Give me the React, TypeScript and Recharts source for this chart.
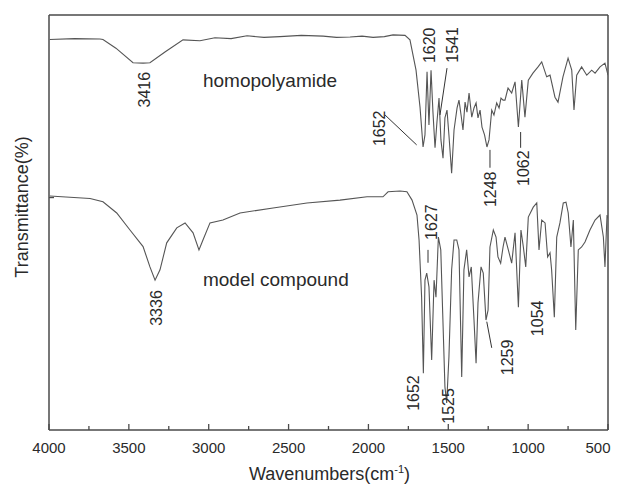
import React from "react";
import { LineChart, Line, XAxis, YAxis, ReferenceLine, ReferenceDot } from "recharts";

// Wavenumber (cm^-1) and transmittance (arbitrary %)
const homoWn = [3995, 3840, 3681, 3662, 3581, 3474, 3411, 3368, 3274, 3161, 3055, 2961, 2860, 2760, 2654, 2554, 2420, 2284, 2200, 2115, 2040, 1971, 1900, 1846, 1771, 1740, 1702, 1677, 1658, 1646, 1633, 1621, 1608, 1596, 1583, 1571, 1558, 1546, 1533, 1521, 1508, 1496, 1479, 1464, 1445, 1433, 1420, 1408, 1395, 1383, 1370, 1353, 1339, 1326, 1314, 1301, 1289, 1273, 1258, 1245, 1228, 1214, 1197, 1182, 1170, 1157, 1145, 1126, 1103, 1082, 1061, 1040, 1020, 999, 970, 938, 915, 884, 863, 832, 813, 782, 750, 727, 713, 696, 665, 633, 602, 581, 550, 519, 500];
const homoT = [94.1, 94.3, 94.2, 94.1, 92.0, 88.5, 88.4, 88.5, 91.1, 94.0, 93.8, 94.5, 94.3, 95.0, 94.6, 94.8, 95.1, 94.9, 94.6, 94.7, 94.9, 94.6, 94.8, 95.2, 95.1, 94.0, 86.7, 77.8, 68.2, 71.1, 86.3, 73.5, 86.7, 76.6, 68.0, 74.2, 80.0, 69.9, 65.5, 75.2, 77.1, 71.1, 61.9, 72.3, 77.6, 79.5, 75.9, 72.3, 79.0, 76.6, 81.2, 75.4, 77.6, 78.8, 75.2, 77.1, 73.0, 71.1, 68.2, 69.9, 77.1, 75.9, 78.8, 77.6, 80.0, 79.5, 79.5, 82.4, 81.2, 83.9, 73.0, 84.3, 75.4, 84.3, 86.0, 87.5, 88.7, 85.1, 85.5, 80.2, 79.0, 85.1, 89.6, 86.7, 77.1, 85.5, 87.5, 85.5, 86.7, 86.0, 87.5, 88.4, 85.5];

const modelWn = [3995, 3743, 3662, 3576, 3493, 3411, 3368, 3336, 3305, 3263, 3200, 3148, 3098, 3061, 3036, 2992, 2911, 2804, 2597, 2385, 2178, 2009, 1909, 1877, 1802, 1759, 1727, 1696, 1683, 1667, 1656, 1646, 1635, 1621, 1604, 1589, 1577, 1562, 1547, 1535, 1521, 1510, 1496, 1479, 1464, 1447, 1433, 1416, 1402, 1385, 1370, 1356, 1339, 1326, 1314, 1295, 1281, 1264, 1251, 1239, 1218, 1201, 1189, 1172, 1157, 1145, 1124, 1103, 1082, 1061, 1045, 1030, 1015, 999, 968, 946, 932, 915, 894, 878, 863, 853, 836, 821, 801, 780, 763, 749, 732, 717, 702, 686, 665, 644, 613, 581, 550, 529, 519, 506, 500];
const modelT = [56.4, 55.8, 55.0, 52.3, 48.2, 44.2, 39.3, 36.1, 38.6, 45.1, 48.7, 49.9, 47.5, 43.4, 45.8, 49.9, 50.6, 52.3, 53.5, 54.7, 55.4, 56.2, 56.2, 57.4, 57.6, 57.4, 55.4, 51.8, 45.8, 32.0, 13.7, 36.1, 37.8, 34.5, 16.9, 36.1, 32.0, 46.5, 43.4, 28.2, 10.4, 6.5, 17.6, 38.6, 45.8, 45.8, 43.4, 12.8, 38.6, 43.4, 36.9, 39.3, 26.5, 16.1, 30.6, 39.3, 37.8, 26.5, 28.9, 44.1, 48.2, 46.5, 41.7, 40.2, 44.1, 46.5, 43.4, 40.2, 47.5, 29.6, 48.2, 44.1, 39.3, 51.3, 53.7, 54.7, 43.4, 50.6, 49.9, 41.7, 42.7, 38.6, 27.2, 46.5, 49.9, 54.7, 54.9, 52.3, 44.1, 50.6, 24.1, 43.4, 44.1, 45.3, 48.2, 50.6, 51.8, 46.5, 39.3, 51.8, 51.0];

const xTicks = [4000, 3750, 3500, 3250, 3000, 2750, 2500, 2250, 2000, 1750, 1500, 1250, 1000, 750, 500];

// Peak labels: text, wavenumber position, level
const peakText = ["3416", "3336", "1620", "1541", "1652", "1248", "1062", "1627", "1652", "1525", "1259", "1054"];
const peakWn = [3405, 3324, 1618, 1474, 1928, 1233, 1029, 1608, 1715, 1496, 1129, 941];
const peakT = [82.0, 29.4, 92.7, 92.8, 72.7, 58.0, 63.1, 50.1, 8.9, 5.8, 17.5, 26.9];

// Leader lines: [wn1, t1, wn2, t2]
const leaders = [
  [1896, 75.9, 1698, 68.7],
  [1508, 87.2, 1552, 75.9],
  [1239, 67.5, 1239, 63.2],
  [1047, 71.8, 1047, 68.0],
  [1627, 43.4, 1627, 40.3],
  [1259, 26.1, 1228, 19.8],
];

// Sample names
const sampleText = ["homopolyamide", "model compound"];
const sampleWn = [3036, 3036];
const sampleT = [82.7, 34.7];

const homo = homoWn.map((wn, i) => ({ wn, t: homoT[i] }));
const model = modelWn.map((wn, i) => ({ wn, t: modelT[i] }));

const FONT = "'Liberation Sans', Arial, Helvetica, sans-serif";
const AXIS = "#4a4a4a";
const TEXT = "#2a2a2a";
const TRACE = "#555555";

const XTick = (props: any) => {
  const { x, y, payload } = props;
  const major = payload.value % 500 === 0;
  const shift = payload.value === 500 ? -10 : 0;
  return (
    <g>
      <line x1={x} x2={x} y1={y} y2={y - (major ? 6 : 4)} stroke={AXIS} strokeWidth={1.3} />
      {major && (
        <text x={x + shift} y={y + 23} textAnchor="middle" fontSize={15} fontFamily={FONT} fill={TEXT}>
          {payload.value}
        </text>
      )}
    </g>
  );
};

const YTick = (props: any) => {
  const { x, y } = props;
  return <line x1={x} x2={x + 5} y1={y} y2={y} stroke={AXIS} strokeWidth={1.2} />;
};

const XTitle = (props: any) => {
  const vb = props.viewBox;
  return (
    <text x={vb.x + vb.width / 2 + 1} y={vb.y + 50} textAnchor="middle" fontSize={18} fontFamily={FONT} fill={TEXT}>
      Wavenumbers(cm
      <tspan fontSize={11} dy={-7}>-1</tspan>
      <tspan dy={7}>)</tspan>
    </text>
  );
};

const YTitle = () => (
  <text
    x={14}
    y={199}
    transform="rotate(-90 14 199)"
    textAnchor="middle"
    dominantBaseline="central"
    fontSize={18}
    fontFamily={FONT}
    fill={TEXT}
  >
    Transmittance(%)
  </text>
);

const makeVText = (txt: string) => (p: any) => (
  <text
    x={p.cx}
    y={p.cy}
    transform={`rotate(-90 ${p.cx} ${p.cy})`}
    textAnchor="middle"
    dominantBaseline="central"
    fontSize={16}
    fontFamily={FONT}
    fill={TEXT}
  >
    {txt}
  </text>
);

const makeHText = (txt: string) => (p: any) => (
  <text x={p.cx} y={p.cy} textAnchor="start" fontSize={19} fontFamily={FONT} fill={TEXT}>
    {txt}
  </text>
);

export default function App() {
  return (
    <>
      <style>{"html, body { overflow: hidden; } .recharts-surface, .recharts-wrapper { overflow: visible; }"}</style>
      <LineChart width={612} height={479} margin={{ top: 7, right: 12, left: 0, bottom: 0 }}>
        <XAxis
          dataKey="wn"
          type="number"
          domain={[500, 4000]}
          reversed
          ticks={xTicks}
          interval={0}
          tick={<XTick />}
          tickLine={false}
          tickSize={0}
          tickMargin={0}
          height={57}
          axisLine={{ stroke: AXIS, strokeWidth: 1.5 }}
          allowDataOverflow
          label={<XTitle />}
        />
        <YAxis
          type="number"
          domain={[0, 100]}
          ticks={[56]}
          tick={<YTick />}
          tickLine={false}
          tickSize={0}
          tickMargin={0}
          width={41}
          axisLine={{ stroke: AXIS, strokeWidth: 1.5 }}
          allowDataOverflow
          label={<YTitle />}
        />
        <ReferenceLine y={100} stroke={AXIS} strokeWidth={1.5} ifOverflow="visible" />
        <ReferenceLine x={500} stroke={AXIS} strokeWidth={1.5} ifOverflow="visible" />
        <Line data={homo} dataKey="t" type="linear" stroke={TRACE} strokeWidth={1.1} dot={false} isAnimationActive={false} />
        <Line data={model} dataKey="t" type="linear" stroke={TRACE} strokeWidth={1.1} dot={false} isAnimationActive={false} />
        {leaders.map((l, i) => (
          <ReferenceLine
            key={"ld" + i}
            segment={[{ x: l[0], y: l[1] }, { x: l[2], y: l[3] }]}
            stroke="#333"
            strokeWidth={1}
            ifOverflow="visible"
          />
        ))}
        {peakText.map((txt, i) => (
          <ReferenceDot key={"pk" + i} x={peakWn[i]} y={peakT[i]} r={0} ifOverflow="visible" shape={makeVText(txt)} />
        ))}
        {sampleText.map((txt, i) => (
          <ReferenceDot key={"sm" + i} x={sampleWn[i]} y={sampleT[i]} r={0} ifOverflow="visible" shape={makeHText(txt)} />
        ))}
      </LineChart>
    </>
  );
}
